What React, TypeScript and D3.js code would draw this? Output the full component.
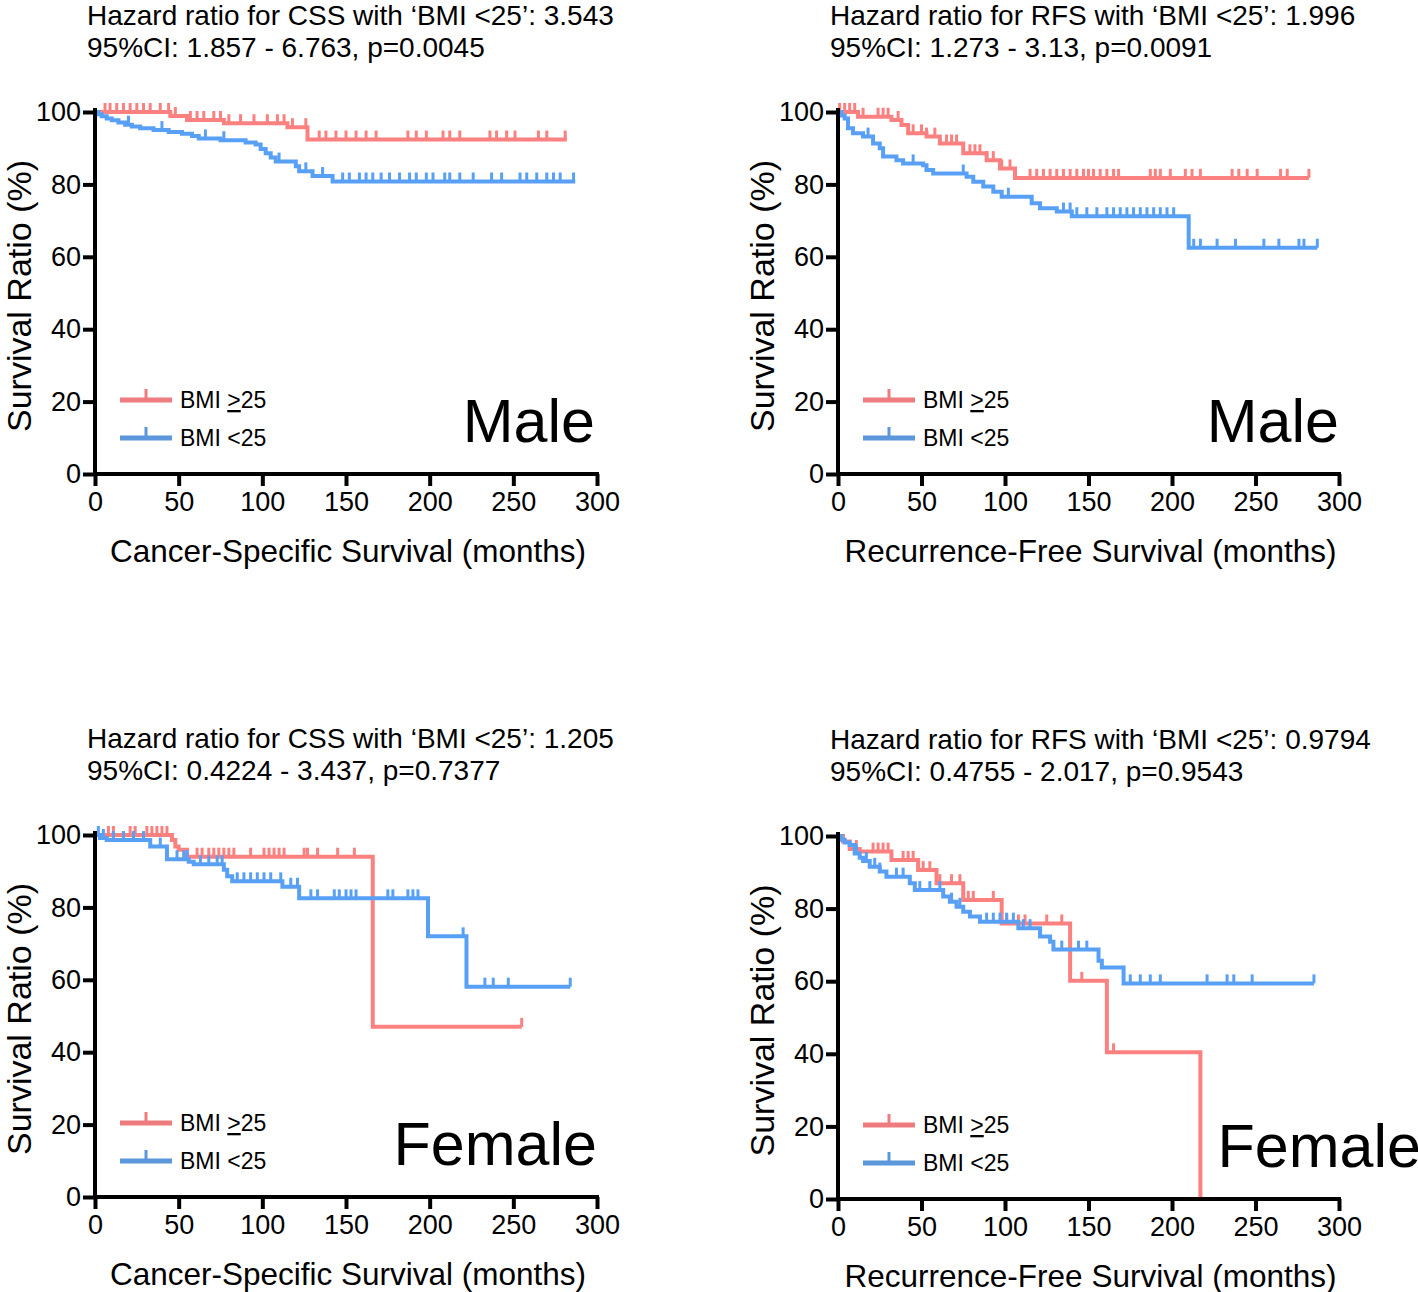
import React, { useEffect, useRef } from "react";
import * as d3 from "d3";

// axis ticks
const xTicks = [0, 50, 100, 150, 200, 250, 300];
const yTicks = [0, 20, 40, 60, 80, 100];

// panel texts
const titleLine1 = [
  "Hazard ratio for CSS with \u2018BMI <25\u2019: 3.543",
  "Hazard ratio for RFS with \u2018BMI <25\u2019: 1.996",
  "Hazard ratio for CSS with \u2018BMI <25\u2019: 1.205",
  "Hazard ratio for RFS with \u2018BMI <25\u2019: 0.9794",
];
const titleLine2 = [
  "95%CI: 1.857 - 6.763, p=0.0045",
  "95%CI: 1.273 - 3.13, p=0.0091",
  "95%CI: 0.4224 - 3.437, p=0.7377",
  "95%CI: 0.4755 - 2.017, p=0.9543",
];
const xTitles = [
  "Cancer-Specific Survival (months)",
  "Recurrence-Free Survival (months)",
  "Cancer-Specific Survival (months)",
  "Recurrence-Free Survival (months)",
];
const sexLabels = ["Male", "Male", "Female", "Female"];

// KM steps: [month, survival %], survival holds from that month on
const cssMaleHigh = [[0, 100], [45, 98.9], [55, 97.8], [77, 96.9], [115, 95.8], [127, 92.4]];
const cssMaleHighEnd = 282;
const cssMaleHighCensor = [6, 9, 13, 17, 21, 25, 29, 33, 39, 44, 48, 57, 61, 65, 71, 75, 80, 87, 95, 103, 109, 113, 118, 126, 134, 138, 144, 150, 156, 162, 168, 187, 192, 198, 208, 212, 218, 236, 240, 246, 251, 265, 270, 281];

const cssMaleLow = [[0, 100], [2, 99.4], [4, 98.8], [7, 98.2], [10, 97.7], [14, 97.1], [18, 96.5], [22, 96], [27, 95.5], [35, 95], [44, 94.5], [52, 94], [58, 93.4], [62, 92.7], [75, 92.2], [90, 91.6], [96, 91], [99, 89.8], [102, 88.6], [105, 87.4], [108, 86.3], [120, 85], [122, 83.6], [130, 82.3], [142, 80.8]];
const cssMaleLowEnd = 287;
const cssMaleLowCensor = [20, 40, 66, 77, 110, 126, 136, 148, 152, 158, 162, 166, 171, 176, 182, 188, 192, 198, 202, 209, 212, 218, 226, 237, 243, 254, 258, 264, 270, 274, 278, 286];

const rfsMaleHigh = [[0, 100], [12, 98.7], [32, 97.8], [38, 96.4], [42, 94.1], [53, 93.2], [61, 91.3], [75, 88.6], [89, 86.7], [97, 84.4], [106, 81.8]];
const rfsMaleHighEnd = 282;
const rfsMaleHighCensor = [1, 4, 7, 10, 15, 24, 27, 30, 36, 45, 50, 53, 58, 65, 68, 71, 79, 82, 85, 89, 93, 98, 103, 115, 119, 123, 127, 131, 135, 139, 143, 147, 150, 153, 157, 161, 165, 168, 187, 190, 193, 199, 208, 212, 217, 236, 240, 245, 251, 265, 269, 282];

const rfsMaleLow = [[0, 100], [2, 99], [4, 98.2], [6, 95.5], [9, 94.1], [15, 93.2], [21, 91.3], [25, 90], [27, 87.7], [35, 86.7], [39, 85.8], [51, 85.3], [53, 84], [57, 83], [77, 82.1], [81, 80.7], [87, 79.4], [93, 78], [98, 76.6], [116, 74.8], [121, 73.4], [131, 72.5], [140, 71.2], [210, 62.5]];
const rfsMaleLowEnd = 287;
const rfsMaleLowCensor = [18, 45, 75, 102, 135, 139, 143, 149, 155, 161, 165, 169, 173, 177, 181, 185, 189, 193, 197, 201, 213, 217, 227, 238, 255, 264, 276, 279, 287];

const cssFemaleHigh = [[0, 100], [46, 98.6], [48, 96.8], [50, 95.9], [55, 94], [166, 47]];
const cssFemaleHighEnd = 255;
const cssFemaleHighCensor = [8, 11, 21, 24, 31, 34, 37, 40, 43, 61, 64, 68, 71, 74, 77, 80, 83, 93, 101, 104, 107, 110, 113, 125, 127, 133, 145, 155, 255];

const cssFemaleLow = [[0, 100], [3, 99.2], [7, 98.6], [33, 96.8], [43, 93.3], [56, 92.6], [59, 91.9], [77, 90.4], [79, 88.6], [82, 87.2], [112, 85.7], [122, 82.5], [199, 72], [222, 58.1]];
const cssFemaleLowEnd = 284;
const cssFemaleLowCensor = [2, 5, 11, 17, 23, 29, 39, 49, 53, 55, 63, 68, 73, 76, 85, 89, 93, 97, 101, 105, 111, 117, 121, 129, 133, 143, 146, 150, 153, 156, 175, 178, 187, 190, 193, 220, 233, 238, 247, 284];

const rfsFemaleHigh = [[0, 100], [3, 98.5], [7, 96.4], [13, 95.7], [32, 93.4], [48, 90.6], [59, 87], [75, 82.4], [98, 75.9], [139, 60.1], [161, 40.4], [217, 0]];
const rfsFemaleHighEnd = 217;
const rfsFemaleHighCensor = [11, 21, 24, 27, 30, 39, 42, 45, 48, 51, 55, 61, 68, 73, 78, 81, 93, 101, 108, 112, 125, 134, 146, 165];

const rfsFemaleLow = [[0, 100], [2, 99], [4, 98.2], [7, 97.5], [10, 95.2], [13, 94], [15, 93.1], [19, 91.5], [25, 90.2], [29, 88.8], [43, 87], [46, 85.1], [63, 83.3], [67, 81.9], [71, 80.5], [75, 79.1], [79, 77.8], [85, 76.4], [108, 74.6], [121, 72.3], [127, 70.9], [129, 68.7], [156, 65.6], [158, 63.8], [171, 59.4]];
const rfsFemaleLowEnd = 285;
const rfsFemaleLowCensor = [11, 17, 22, 25, 35, 39, 49, 55, 61, 68, 73, 89, 93, 97, 101, 105, 111, 115, 121, 134, 144, 149, 156, 175, 181, 187, 193, 221, 233, 237, 248, 285];

const highSteps = [cssMaleHigh, rfsMaleHigh, cssFemaleHigh, rfsFemaleHigh];
const highEnds = [cssMaleHighEnd, rfsMaleHighEnd, cssFemaleHighEnd, rfsFemaleHighEnd];
const highCensors = [cssMaleHighCensor, rfsMaleHighCensor, cssFemaleHighCensor, rfsFemaleHighCensor];
const lowSteps = [cssMaleLow, rfsMaleLow, cssFemaleLow, rfsFemaleLow];
const lowEnds = [cssMaleLowEnd, rfsMaleLowEnd, cssFemaleLowEnd, rfsFemaleLowEnd];
const lowCensors = [cssMaleLowCensor, rfsMaleLowCensor, cssFemaleLowCensor, rfsFemaleLowCensor];

// panel placement (plot area corners in px)
const panelBoxes = [
  { left: 95, right: 597, top: 112, bottom: 474, sexRight: 595 },
  { left: 838, right: 1339, top: 112, bottom: 474, sexRight: 1339 },
  { left: 95, right: 597, top: 835, bottom: 1197, sexRight: 597 },
  { left: 838, right: 1339, top: 836, bottom: 1199, sexRight: 1421 },
];

const RED = "#fb8080";
const BLUE = "#58a0f6";
const LEG_RED = "#ee7b7e";
const LEG_BLUE = "#5b97da";
const FONT = "'Liberation Sans', Arial, sans-serif";

const App = () => {
  const ref = useRef(null);

  useEffect(() => {
    const svg = d3.select(ref.current);
    svg.selectAll("*").remove();

    panelBoxes.forEach((box, i) => {
      const x = d3.scaleLinear().domain([0, 300]).range([box.left, box.right]);
      const y = d3.scaleLinear().domain([0, 100]).range([box.bottom, box.top]);
      const g = svg.append("g");

      // titles
      g.append("text")
        .attr("x", box.left - 8)
        .attr("y", box.top - 87)
        .attr("font-size", 28)
        .attr("font-family", FONT)
        .text(titleLine1[i]);
      g.append("text")
        .attr("x", box.left - 8)
        .attr("y", box.top - 55)
        .attr("font-size", 28)
        .attr("font-family", FONT)
        .text(titleLine2[i]);

      // survival curves
      const line = d3.line()
        .x((d) => x(d[0]))
        .y((d) => y(d[1]))
        .curve(d3.curveStepAfter);

      const drawCurve = (steps, end, censor, color) => {
        const last = steps[steps.length - 1];
        const pts = last[0] < end ? [...steps, [end, last[1]]] : steps;
        g.append("path")
          .datum(pts)
          .attr("fill", "none")
          .attr("stroke", color)
          .attr("stroke-width", 4)
          .attr("d", line);
        const survAt = (t) => {
          let s = steps[0][1];
          steps.forEach((d) => { if (d[0] <= t) s = d[1]; });
          return s;
        };
        g.selectAll(null)
          .data(censor)
          .enter()
          .append("line")
          .attr("x1", (d) => x(d))
          .attr("x2", (d) => x(d))
          .attr("y1", (d) => y(survAt(d)))
          .attr("y2", (d) => y(survAt(d)) - 9)
          .attr("stroke", color)
          .attr("stroke-width", 3);
      };
      drawCurve(highSteps[i], highEnds[i], highCensors[i], RED);
      drawCurve(lowSteps[i], lowEnds[i], lowCensors[i], BLUE);

      // axes
      const xAxis = g.append("g")
        .attr("transform", `translate(0,${box.bottom})`)
        .call(d3.axisBottom(x).tickValues(xTicks).tickSize(12).tickPadding(6).tickSizeOuter(0));
      const yAxis = g.append("g")
        .attr("transform", `translate(${box.left},0)`)
        .call(d3.axisLeft(y).tickValues(yTicks).tickSize(12).tickPadding(2).tickSizeOuter(0));
      [xAxis, yAxis].forEach((ax) => {
        ax.select(".domain").attr("stroke", "#000").attr("stroke-width", 4);
        ax.selectAll(".tick line").attr("stroke", "#000").attr("stroke-width", 4);
        ax.selectAll(".tick text")
          .attr("fill", "#000")
          .attr("font-size", 27)
          .attr("font-family", FONT);
      });
      xAxis.select(".domain").attr("d", `M${box.left - 2},0H${box.right + 2}`);
      yAxis.select(".domain").attr("d", `M0,${box.top - 4}V${box.bottom + 2}`);

      // axis titles
      g.append("text")
        .attr("transform", `translate(${box.left - 64},${(box.top + box.bottom) / 2 + 3}) rotate(-90)`)
        .attr("text-anchor", "middle")
        .attr("font-size", 34)
        .attr("font-family", FONT)
        .text("Survival Ratio (%)");
      g.append("text")
        .attr("x", (box.left + box.right) / 2 + 2)
        .attr("y", box.bottom + 88)
        .attr("text-anchor", "middle")
        .attr("font-size", 31.5)
        .attr("font-family", FONT)
        .text(xTitles[i]);

      // legend
      const legend = [
        { color: LEG_RED, label: "25", under: true },
        { color: LEG_BLUE, label: "<25", under: false },
      ];
      legend.forEach((d, j) => {
        const ly = box.bottom - 74 + j * 38;
        g.append("line")
          .attr("x1", box.left + 25).attr("x2", box.left + 77)
          .attr("y1", ly).attr("y2", ly)
          .attr("stroke", d.color).attr("stroke-width", 5);
        g.append("line")
          .attr("x1", box.left + 51).attr("x2", box.left + 51)
          .attr("y1", ly).attr("y2", ly - 11)
          .attr("stroke", d.color).attr("stroke-width", 3);
        const t = g.append("text")
          .attr("x", box.left + 85)
          .attr("y", ly + 8)
          .attr("font-size", 23)
          .attr("font-family", FONT);
        t.append("tspan").text("BMI ");
        if (d.under) {
          t.append("tspan").attr("text-decoration", "underline").text(">");
        }
        t.append("tspan").text(d.label);
      });

      // sex label
      g.append("text")
        .attr("x", box.sexRight)
        .attr("y", box.bottom - 32)
        .attr("text-anchor", "end")
        .attr("font-size", 61)
        .attr("font-family", FONT)
        .text(sexLabels[i]);
    });
  }, []);

  return (
    <svg
      ref={ref}
      width={1418}
      height={1292}
      style={{ position: "absolute", left: 0, top: 0, background: "#fff" }}
    />
  );
};

export default App;
